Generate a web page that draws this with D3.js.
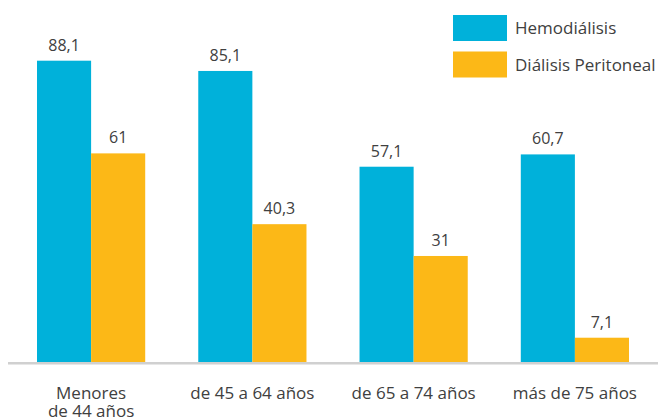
<!DOCTYPE html>
<html>
<head>
<meta charset="utf-8">
<script src="https://cdn.jsdelivr.net/npm/d3@7"></script>
<style>
  body { margin: 0; background: #fff; }
  text { font-family: "Open Sans", sans-serif; fill: #404040; }
</style>
</head>
<body>
<div id="container"></div>
<script>
// data
const categories = ["Menores de 44 años", "de 45 a 64 años", "de 65 a 74 años", "más de 75 años"];
const tickLines = [["Menores", "de 44 años"], ["de 45 a 64 años"], ["de 65 a 74 años"], ["más de 75 años"]];
const seriesNames = ["Hemodiálisis", "Diálisis Peritoneal"];
const hemodialisis = [88.1, 85.1, 57.1, 60.7];
const peritoneal = [61, 40.3, 31, 7.1];
const colors = ["#00b1da", "#fcb817"];

let w = 658;
let h = 419;

let viz = d3.select("#container")
  .append("svg")
    .attr("width", w)
    .attr("height", h)
    .style("background-color", "#fff");

const rows = categories.map((c, i) => ({
  cat: c,
  values: [hemodialisis[i], peritoneal[i]]
}));

// scales
const x0 = d3.scaleBand()
  .domain(categories)
  .range([37, 629])
  .paddingInner(0.329)
  .paddingOuter(0);

const x1 = d3.scaleBand()
  .domain(seriesNames)
  .range([0, x0.bandwidth()]);

const y = d3.scaleLinear()
  .domain([0, 100])
  .range([362, 20]);

// bars
const groups = viz.selectAll("g.group")
  .data(rows)
  .enter()
  .append("g")
  .attr("class", "group")
  .attr("transform", d => `translate(${x0(d.cat)},0)`);

groups.selectAll("rect")
  .data(d => d.values.map((v, i) => ({ key: seriesNames[i], value: v, i })))
  .enter()
  .append("rect")
  .attr("x", d => x1(d.key))
  .attr("y", d => y(d.value))
  .attr("width", x1.bandwidth())
  .attr("height", d => y(0) - y(d.value))
  .attr("fill", d => colors[d.i]);

// value labels
groups.selectAll("text.val")
  .data(d => d.values.map((v, i) => ({ key: seriesNames[i], value: v })))
  .enter()
  .append("text")
  .attr("class", "val")
  .attr("x", d => x1(d.key) + x1.bandwidth() / 2)
  .attr("y", d => y(d.value) - 10)
  .attr("text-anchor", "middle")
  .style("font-size", "16px")
  .text(d => String(d.value).replace(".", ","));

// baseline
viz.append("line")
  .attr("x1", 8)
  .attr("x2", w)
  .attr("y1", y(0) + 1.2)
  .attr("y2", y(0) + 1.2)
  .attr("stroke", "#d0d0d0")
  .attr("stroke-width", 2.5);

// category axis (labels only)
const xAxis = viz.append("g")
  .attr("transform", `translate(0,${y(0)})`)
  .call(d3.axisBottom(x0).tickSize(0).tickPadding(0));

xAxis.select(".domain").remove();
xAxis.selectAll("text")
  .attr("y", 37)
  .attr("dy", null)
  .attr("fill", "#404040")
  .style("font-size", "17px")
  .style("font-family", "'Open Sans', sans-serif")
  .text(null)
  .each(function(d) {
    const lines = tickLines[categories.indexOf(d)];
    const t = d3.select(this);
    lines.forEach((ln, i) => {
      t.append("tspan")
        .attr("x", 0)
        .attr("dy", i === 0 ? 0 : 18)
        .text(ln);
    });
  });

// legend
const legend = viz.append("g")
  .attr("transform", "translate(453,15)");

legend.selectAll("rect")
  .data(seriesNames)
  .enter()
  .append("rect")
  .attr("x", 0)
  .attr("y", (d, i) => i * 36.5)
  .attr("width", 54)
  .attr("height", 26)
  .attr("fill", (d, i) => colors[i]);

legend.selectAll("text")
  .data(seriesNames)
  .enter()
  .append("text")
  .attr("x", 62)
  .attr("y", (d, i) => i * 36.5 + 19)
  .style("font-size", "17px")
  .text(d => d);
</script>
</body>
</html>
